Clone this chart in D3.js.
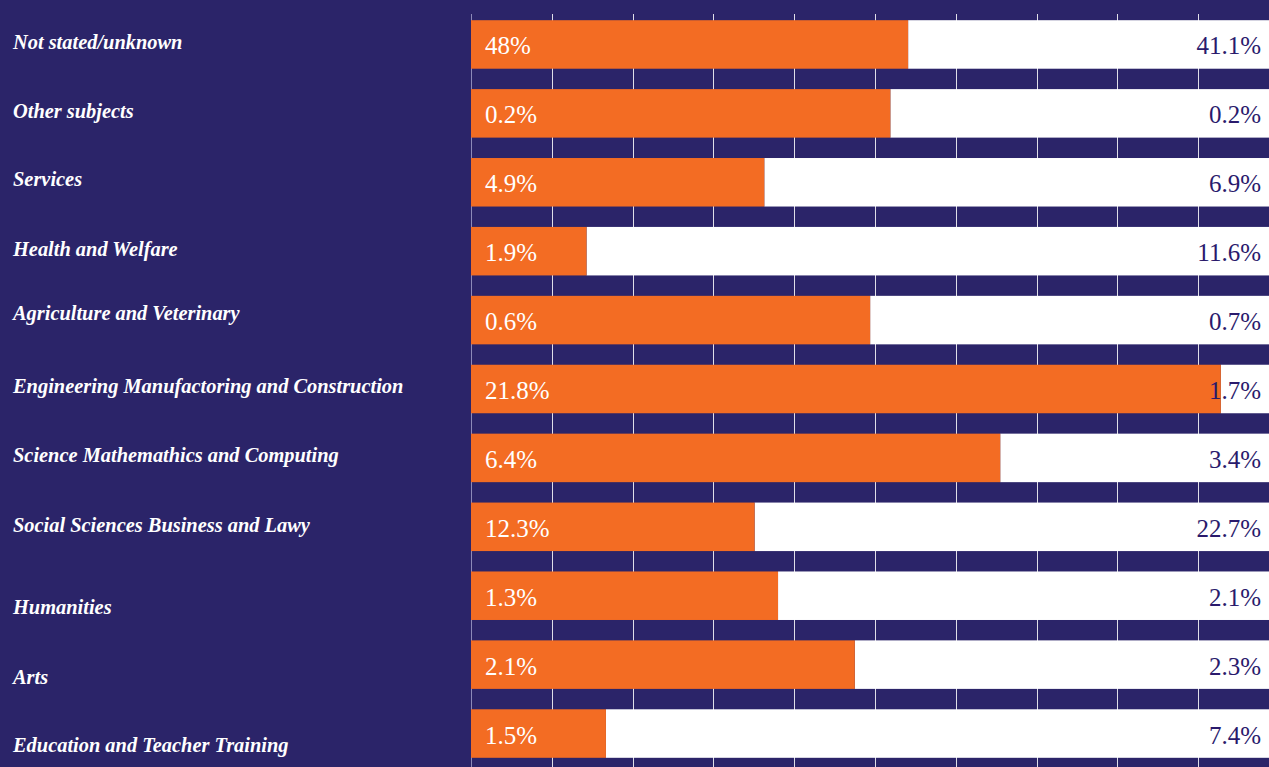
<!DOCTYPE html>
<html>
<head>
<meta charset="utf-8">
<script src="https://cdn.jsdelivr.net/npm/d3@7"></script>
<style>
  html, body { margin: 0; padding: 0; background: #2B2469; overflow: hidden; }
  svg { display: block; }
</style>
</head>
<body>
<svg id="chart" width="1269" height="767"></svg>
<script>
// ---- data ----
const categories = [
  "Not stated/unknown",
  "Other subjects",
  "Services",
  "Health and Welfare",
  "Agriculture and Veterinary",
  "Engineering Manufactoring and Construction",
  "Science Mathemathics and Computing",
  "Social Sciences Business and Lawy",
  "Humanities",
  "Arts",
  "Education and Teacher Training"
];
// label shown inside the orange part
const orangeLabels = ["48%", "0.2%", "4.9%", "1.9%", "0.6%", "21.8%", "6.4%", "12.3%", "1.3%", "2.1%", "1.5%"];
// label shown in the white part
const whiteLabels = ["41.1%", "0.2%", "6.9%", "11.6%", "0.7%", "1.7%", "3.4%", "22.7%", "2.1%", "2.3%", "7.4%"];
// orange share of each bar (percent of 100)
const orangeShare = [54.1, 51.9, 36.3, 14.3, 49.4, 92.8, 65.5, 35.1, 38.0, 47.5, 16.7];
const gridTicks = [0, 10, 20, 30, 40, 50, 60, 70, 80, 90];

// ---- layout ----
const W = 1269, H = 767;
const colors = { bg: "#2B2469", orange: "#F36C23", white: "#FFFFFF", navyText: "#2A1A6C" };
const labelNudge = [5, 5, 4, 5, 0, 4, 4, 5, 18, 19, 18];

const svg = d3.select("#chart");
svg.append("rect").attr("width", W).attr("height", H).attr("fill", colors.bg);

const x = d3.scaleLinear().domain([0, 100]).range([471, 1279]);
const y = d3.scaleBand().domain(categories).range([10, 768]).paddingInner(0.296).paddingOuter(0.148);

// grid lines
svg.append("g").selectAll("line").data(gridTicks).join("line")
  .attr("x1", d => Math.round(x(d)) + 0.5)
  .attr("x2", d => Math.round(x(d)) + 0.5)
  .attr("y1", 14).attr("y2", H)
  .attr("stroke", d => d === 0 ? "#8C89B8" : "#FFFFFF")
  .attr("stroke-opacity", d => d === 0 ? 1 : 0.85)
  .attr("stroke-width", 1);

const rows = svg.append("g").selectAll("g").data(categories).join("g");

// white (remainder) part
rows.append("rect")
  .attr("x", (d, i) => x(orangeShare[i]))
  .attr("y", d => y(d))
  .attr("width", (d, i) => x(100) - x(orangeShare[i]))
  .attr("height", y.bandwidth())
  .attr("fill", colors.white);

// orange part
rows.append("rect")
  .attr("x", x(0))
  .attr("y", d => y(d))
  .attr("width", (d, i) => x(orangeShare[i]) - x(0))
  .attr("height", y.bandwidth())
  .attr("fill", colors.orange);

// value labels
rows.append("text")
  .attr("x", x(0) + 14)
  .attr("y", d => y(d) + y.bandwidth() / 2 + 10)
  .attr("fill", "#FFFFFF")
  .style("font-family", "'Liberation Serif', 'Times New Roman', serif")
  .style("font-size", "25px")
  .text((d, i) => orangeLabels[i]);

rows.append("text")
  .attr("x", 1261)
  .attr("y", d => y(d) + y.bandwidth() / 2 + 10)
  .attr("text-anchor", "end")
  .attr("fill", colors.navyText)
  .style("font-family", "'Liberation Serif', 'Times New Roman', serif")
  .style("font-size", "25px")
  .text((d, i) => whiteLabels[i]);

// category labels
rows.append("text")
  .attr("x", 13)
  .attr("y", (d, i) => y(d) + y.bandwidth() / 2 + labelNudge[i])
  .attr("fill", "#FFFFFF")
  .style("font-family", "'Liberation Serif', 'Times New Roman', serif")
  .style("font-size", "20.4px")
  .style("font-style", "italic")
  .style("font-weight", "bold")
  .text(d => d);
</script>
</body>
</html>
